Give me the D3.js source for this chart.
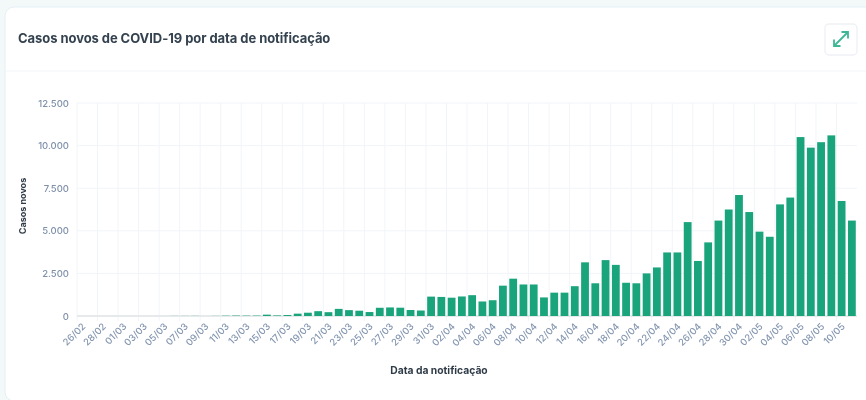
<!DOCTYPE html>
<html><head><meta charset="utf-8">
<script src="https://cdnjs.cloudflare.com/ajax/libs/d3/7.8.5/d3.min.js"></script>
<style>html,body{margin:0;padding:0;background:#f3f9f8;overflow:hidden}svg{display:block;filter:blur(0.5px)}text{font-family:Inter,"Noto Sans",sans-serif}</style>
</head><body><div id="c"></div>
<script>
const title="Casos novos de COVID-19 por data de notificação";
const xTitle="Data da notificação";
const yTitle="Casos novos";
const dates=["26/02","27/02","28/02","29/02","01/03","02/03","03/03","04/03","05/03","06/03","07/03","08/03","09/03","10/03","11/03","12/03","13/03","14/03","15/03","16/03","17/03","18/03","19/03","20/03","21/03","22/03","23/03","24/03","25/03","26/03","27/03","28/03","29/03","30/03","31/03","01/04","02/04","03/04","04/04","05/04","06/04","07/04","08/04","09/04","10/04","11/04","12/04","13/04","14/04","15/04","16/04","17/04","18/04","19/04","20/04","21/04","22/04","23/04","24/04","25/04","26/04","27/04","28/04","29/04","30/04","01/05","02/05","03/05","04/05","05/05","06/05","07/05","08/05","09/05","10/05","11/05"];
const cases=[1,0,0,1,0,0,0,0,1,5,6,7,0,6,18,25,21,23,79,34,57,137,193,283,224,418,345,310,232,482,502,487,352,323,1138,1119,1074,1146,1222,852,926,1780,2190,1850,1850,1090,1370,1370,1750,3150,1920,3280,3000,1950,1920,2500,2850,3730,3730,5510,3230,4320,5600,6250,7100,6100,4950,4650,6550,6950,10500,9880,10200,10600,6750,5600];
const yTicks=[0,2500,5000,7500,10000,12500];
const yLabels=["0","2.500","5.000","7.500","10.000","12.500"];
const W=866,H=400,m={l:77,r:857,t:103,b:316};
const svg=d3.select("#c").append("svg").attr("width",W).attr("height",H);
svg.append("rect").attr("x",5).attr("y",7).attr("width",W+20).attr("height",394).attr("rx",9).attr("fill","#fff").attr("stroke","#e3eff5").attr("stroke-width",1);
svg.append("line").attr("x1",5).attr("x2",W).attr("y1",71).attr("y2",71).attr("stroke","#f3f6fa").attr("stroke-width",1.2);
svg.append("text").attr("x",18).attr("y",43).attr("font-size",13).attr("font-weight",700).attr("fill","#34424f").attr("letter-spacing",-0.06).text(title);
// expand button
const b=svg.append("g").attr("transform","translate(825,24)");
b.append("rect").attr("width",32).attr("height",31).attr("rx",4).attr("fill","#fff").attr("stroke","#eef1f6").attr("stroke-width",1.4);
b.append("path").attr("d","M9 22L23 8M16.5 8H23V14.5M9 15.5V22H15.5").attr("fill","none").attr("stroke","#3fb796").attr("stroke-width",1.8);
const x=d3.scaleBand().domain(dates).range([m.l,m.r]).paddingInner(0.24).paddingOuter(0.12);
const step=(m.r-m.l)/dates.length;
const y=d3.scaleLinear().domain([0,12500]).range([m.b,m.t]);
const tickDates=dates.filter((d,i)=>i%2===0);
// grid
svg.append("g").selectAll("line").data(tickDates).join("line")
 .attr("x1",d=>m.l+dates.indexOf(d)*step).attr("x2",d=>m.l+dates.indexOf(d)*step)
 .attr("y1",m.t).attr("y2",m.b+5).attr("stroke","#f1f4f9").attr("stroke-width",1);
svg.append("g").selectAll("line").data(yTicks).join("line")
 .attr("x1",m.l).attr("x2",m.r).attr("y1",d=>y(d)).attr("y2",d=>y(d)).attr("stroke","#f1f4f9").attr("stroke-width",1);
svg.append("line").attr("x1",m.l).attr("x2",m.r).attr("y1",y(0)).attr("y2",y(0)).attr("stroke","#e2e4e6").attr("stroke-width",1.3);
// bars
svg.append("g").selectAll("rect").data(dates).join("rect")
 .attr("x",d=>x(d)).attr("width",x.bandwidth()).attr("y",(d,i)=>y(cases[i])).attr("height",(d,i)=>y(0)-y(cases[i]))
 .attr("fill","#1aa47c");
// axis labels
const yAxis=d3.axisLeft(y).tickValues(yTicks).tickSize(0).tickPadding(8).tickFormat((d,i)=>yLabels[i]);
const gy=svg.append("g").attr("transform",`translate(${m.l},0)`).call(yAxis);
gy.select(".domain").remove();
gy.selectAll("text").attr("font-size",9.5).attr("font-weight",500).attr("fill","#7f91aa").style("font-family","Inter");
const xAxis=d3.axisBottom(x).tickValues(tickDates).tickSize(0).tickPadding(0);
const gx=svg.append("g").attr("transform",`translate(0,${m.b})`).call(xAxis);
gx.select(".domain").remove();
gx.selectAll("text").attr("font-size",9.5).attr("font-weight",500).attr("fill","#8496b0").style("font-family","Inter")
 .attr("text-anchor","end").attr("dy",0).attr("y",0).attr("x",0)
 .attr("transform","translate(4,11) rotate(-45)");
svg.append("text").attr("x",439).attr("y",374).attr("text-anchor","middle").attr("font-size",10.3).attr("font-weight",700).attr("fill","#2f3b47").text(xTitle);
svg.append("text").attr("transform","translate(26,206) rotate(-90)").attr("text-anchor","middle").attr("font-size",9).attr("font-weight",700).attr("fill","#2f3b47").text(yTitle);
</script></body></html>
